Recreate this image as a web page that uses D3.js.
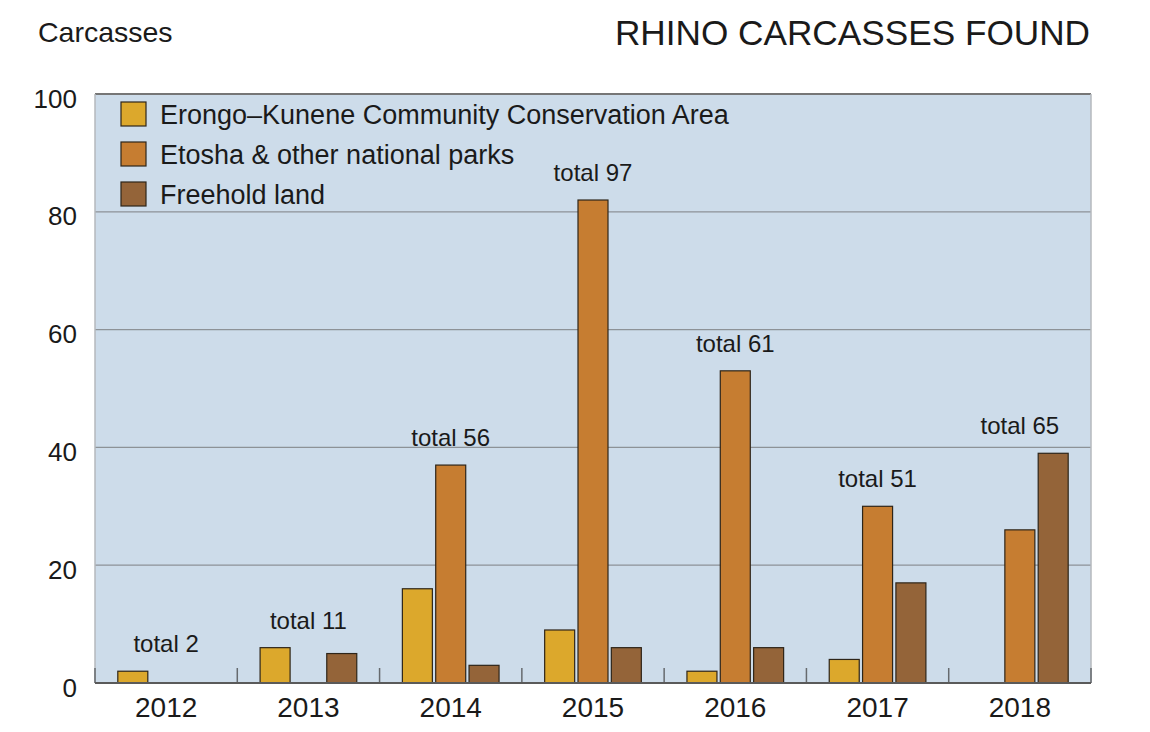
<!DOCTYPE html>
<html>
<head>
<meta charset="utf-8">
<script src="https://cdn.jsdelivr.net/npm/d3@7"></script>
<style>
  body { margin: 0; background: #fff; }
  svg text { font-family: "Liberation Sans", Arial, sans-serif; fill: #1a1a1a; }
</style>
</head>
<body>
<div id="chart"></div>
<script>
// data
var years = ["2012", "2013", "2014", "2015", "2016", "2017", "2018"];
var seriesNames = ["Erongo–Kunene Community Conservation Area", "Etosha & other national parks", "Freehold land"];
var erongo   = [2, 6, 16, 9, 2, 4, 0];
var etosha   = [0, 0, 37, 82, 53, 30, 26];
var freehold = [0, 5, 3, 6, 6, 17, 39];
var yTicks = [0, 20, 40, 60, 80, 100];
var colors = ["#dca82c", "#c67d31", "#946439"];

var svgWidth = 1150, svgHeight = 732;
var margin = { top: 94, right: 59, bottom: 49, left: 95 };
var width = svgWidth - margin.left - margin.right;
var height = svgHeight - margin.top - margin.bottom;

var svg = d3.select("#chart").append("svg")
    .attr("width", svgWidth)
    .attr("height", svgHeight);

// titles
svg.append("text").attr("x", 38).attr("y", 42)
    .attr("font-size", "28.5px").text("Carcasses");
svg.append("text").attr("x", 1090).attr("y", 45)
    .attr("font-size", "35.2px").attr("text-anchor", "end").text("RHINO CARCASSES FOUND");

var chartGroup = svg.append("g")
    .attr("transform", `translate(${margin.left}, ${margin.top})`);

// scales
var x0 = d3.scaleBand().domain(years).range([0, width]);
var x1 = d3.scaleBand().domain(d3.range(3)).range([0, 96.67]).paddingInner(0.1);
var groupPad = (x0.bandwidth() - 96.67) / 2;
var y = d3.scaleLinear().domain([0, 100]).range([height, 0]);

// background
chartGroup.append("rect")
    .attr("width", width).attr("height", height)
    .attr("fill", "#cddcea");

// gridlines
chartGroup.selectAll(".grid").data(yTicks.filter(d => d > 0 && d < 100)).enter()
    .append("line")
    .attr("x1", 0).attr("x2", width)
    .attr("y1", d => y(d)).attr("y2", d => y(d))
    .attr("stroke", "#8d9297").attr("stroke-width", 1.2);

// frame
chartGroup.append("line").attr("x1", 0).attr("x2", width).attr("y1", 0).attr("y2", 0)
    .attr("stroke", "#767676").attr("stroke-width", 2);
chartGroup.append("line").attr("x1", 0).attr("x2", 0).attr("y1", 0).attr("y2", height)
    .attr("stroke", "#b4b8bc").attr("stroke-width", 1.5);
chartGroup.append("line").attr("x1", width).attr("x2", width).attr("y1", 0).attr("y2", height)
    .attr("stroke", "#b4b8bc").attr("stroke-width", 1.5);

// y axis labels
var leftAxis = d3.axisLeft(y).tickValues(yTicks).tickSize(0).tickPadding(18);
var yAxisG = chartGroup.append("g").call(leftAxis);
yAxisG.select(".domain").remove();
yAxisG.selectAll("text")
    .attr("font-size", "26px").attr("dy", "0.5em")
    .style("font-family", "'Liberation Sans', Arial, sans-serif").attr("fill", "#1a1a1a");

// bars
var rows = years.map(function(yr, i) {
    return { year: yr, values: [erongo[i], etosha[i], freehold[i]] };
});
var groups = chartGroup.selectAll(".year").data(rows).enter()
    .append("g")
    .attr("transform", d => `translate(${x0(d.year) + groupPad}, 0)`);

groups.selectAll("rect")
    .data(d => d.values.map((v, k) => ({ k: k, v: v })).filter(e => e.v > 0))
    .enter().append("rect")
    .attr("x", d => x1(d.k))
    .attr("width", x1.bandwidth())
    .attr("y", d => y(d.v))
    .attr("height", d => height - y(d.v))
    .attr("fill", d => colors[d.k])
    .attr("stroke", "#2e2519").attr("stroke-width", 1.2);

// total labels
groups.append("text")
    .attr("x", 96.67 / 2)
    .attr("y", d => y(d3.max(d.values)) - 19)
    .attr("text-anchor", "middle")
    .attr("font-size", "24px")
    .text(d => "total " + d3.sum(d.values));

// x axis: ticks at category boundaries
var bottomAxis = d3.axisBottom(x0).tickSize(0).tickPadding(12);
var xAxisG = chartGroup.append("g")
    .attr("transform", `translate(0, ${height})`)
    .call(bottomAxis);
xAxisG.select(".domain").remove();
xAxisG.selectAll("text")
    .attr("font-size", "28px").attr("dy", "0.8em")
    .style("font-family", "'Liberation Sans', Arial, sans-serif").attr("fill", "#1a1a1a");

var bounds = years.map(d => x0(d)).concat([width]);
chartGroup.selectAll(".xtick").data(bounds).enter()
    .append("line")
    .attr("x1", d => d).attr("x2", d => d)
    .attr("y1", height - 15).attr("y2", height)
    .attr("stroke", "#666a6e").attr("stroke-width", 1.5);
chartGroup.append("line")
    .attr("x1", 0).attr("x2", width).attr("y1", height).attr("y2", height)
    .attr("stroke", "#5a5a5a").attr("stroke-width", 2);

// legend
var legend = chartGroup.selectAll(".legend").data(seriesNames).enter()
    .append("g")
    .attr("transform", (d, i) => `translate(26, ${8 + i * 40})`);
legend.append("rect")
    .attr("width", 25).attr("height", 24)
    .attr("fill", (d, i) => colors[i])
    .attr("stroke", "#2e2519").attr("stroke-width", 1.2);
legend.append("text")
    .attr("x", 39).attr("y", 22)
    .attr("font-size", "27px")
    .text(d => d);
</script>
</body>
</html>
